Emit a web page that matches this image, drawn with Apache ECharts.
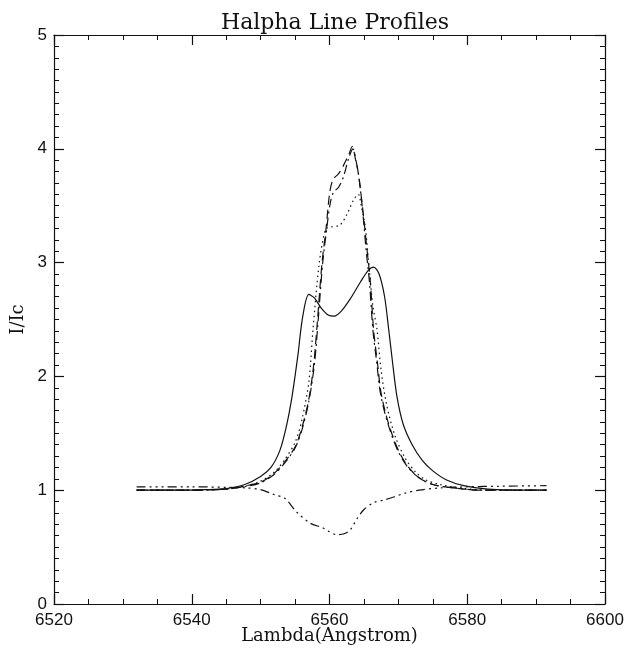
<!DOCTYPE html>
<html>
<head>
<meta charset="utf-8">
<script src="https://cdn.jsdelivr.net/npm/echarts@6/dist/echarts.min.js"></script>
<style>
  html, body { margin: 0; padding: 0; background: #fff; }
  #chart { width: 628px; height: 651px; }
</style>
</head>
<body>
<div id="chart"></div>
<script>
// wavelength (Angstrom) / normalised intensity pairs
var solidProfile = [
    [6532, 1.0], [6538, 1.0], [6542, 1.005], [6545, 1.015], [6547.7, 1.05],
    [6550, 1.12], [6551.5, 1.2], [6552.8, 1.35], [6553.7, 1.55], [6554.5, 1.8],
    [6555.4, 2.18], [6556.1, 2.52], [6557.0, 2.72], [6557.8, 2.69], [6558.8, 2.6],
    [6559.8, 2.54], [6560.7, 2.53], [6561.8, 2.58], [6563, 2.68], [6564.5, 2.83],
    [6565.6, 2.93], [6566.4, 2.96], [6567.2, 2.9], [6568, 2.7], [6568.6, 2.41],
    [6569.2, 2.1], [6569.8, 1.82], [6570.7, 1.58], [6572, 1.4], [6573.5, 1.26],
    [6575, 1.17], [6577, 1.09], [6579.5, 1.04], [6583, 1.01], [6587, 1.0], [6591.5, 1.0]
];
var dashedProfile = [
    [6532, 1.0], [6540, 1.0], [6545, 1.01], [6548, 1.04], [6550, 1.07],
    [6552, 1.15], [6553.5, 1.25], [6555, 1.38], [6556, 1.55], [6557, 1.8],
    [6557.7, 2.1], [6558.2, 2.45], [6558.9, 2.99], [6559.5, 3.3], [6560, 3.6],
    [6560.5, 3.73], [6561.3, 3.78], [6562, 3.85], [6562.8, 3.95], [6563.3, 4.02],
    [6563.8, 3.9], [6564.2, 3.78], [6564.9, 3.43], [6565.4, 3.14], [6565.9, 2.85],
    [6566.4, 2.41], [6567, 2.1], [6567.5, 1.85], [6568.5, 1.6], [6570, 1.35],
    [6571.5, 1.2], [6573, 1.11], [6575, 1.05], [6578, 1.02], [6582, 1.0], [6591.5, 1.0]
];
var dashDotProfile = [
    [6532, 1.0], [6540, 1.0], [6545, 1.01], [6548, 1.035], [6550, 1.065],
    [6552, 1.14], [6553.5, 1.24], [6555, 1.37], [6556, 1.53], [6557, 1.78],
    [6557.8, 2.1], [6558.3, 2.45], [6559, 2.99], [6559.6, 3.3], [6560.1, 3.52],
    [6560.6, 3.62], [6561.3, 3.66], [6562, 3.75], [6562.8, 3.92], [6563.4, 4.0],
    [6563.9, 3.88], [6564.3, 3.74], [6564.9, 3.4], [6565.3, 3.12], [6565.8, 2.83],
    [6566.3, 2.41], [6566.9, 2.1], [6567.4, 1.85], [6568.4, 1.6], [6569.9, 1.35],
    [6571.4, 1.2], [6573, 1.11], [6575, 1.05], [6578, 1.02], [6582, 1.0], [6591.5, 1.0]
];
var dottedProfile = [
    [6532, 1.0], [6540, 1.0], [6545, 1.01], [6548, 1.04], [6550, 1.08],
    [6552, 1.16], [6553.5, 1.27], [6555, 1.42], [6556, 1.62], [6557, 1.95],
    [6557.6, 2.41], [6558.5, 2.99], [6559.4, 3.29], [6560, 3.31], [6561.5, 3.33],
    [6562.5, 3.42], [6563.5, 3.55], [6564.2, 3.6], [6564.6, 3.5], [6565.2, 3.31],
    [6565.7, 2.99], [6566.3, 2.62], [6566.9, 2.41], [6567.5, 2.05], [6568.3, 1.75],
    [6569.5, 1.48], [6571, 1.28], [6572.5, 1.16], [6574, 1.09], [6576, 1.05],
    [6579, 1.02], [6583, 1.0], [6591.5, 1.0]
];
var absorptionProfile = [
    [6532, 1.03], [6540, 1.03], [6545, 1.025], [6548, 1.02], [6550, 1.005],
    [6552, 0.96], [6553.5, 0.93], [6555.2, 0.81], [6557.2, 0.71], [6559, 0.67],
    [6560, 0.635], [6561, 0.61], [6562, 0.615], [6563, 0.65], [6564, 0.75],
    [6565, 0.83], [6566.4, 0.89], [6568, 0.915], [6569.3, 0.94], [6571, 0.975],
    [6573, 1.0], [6576, 1.02], [6580, 1.03], [6585, 1.035], [6591.5, 1.04]
];

var xMin = 6520, xMax = 6600, xStep = 20;
var yMin = 0, yMax = 5, yStep = 1;

var ink = '#111';
var tickFont = { color: ink, fontFamily: 'Liberation Sans', fontSize: 17 };

function frameAxis(pos, min, max, step, minorSplit, labels, labelMargin) {
    return {
        type: 'value',
        position: pos,
        min: min,
        max: max,
        interval: step,
        axisLine: { show: true, onZero: false, lineStyle: { color: ink, width: 1.2 } },
        axisTick: { show: true, inside: true, length: 10, lineStyle: { color: ink, width: 1.2 } },
        minorTick: { show: true, splitNumber: minorSplit, length: 5, lineStyle: { color: ink, width: 1 } },
        splitLine: { show: false },
        axisLabel: labels ? Object.assign({
            show: true,
            margin: labelMargin,
            formatter: function (v) { return String(v); } // no thousands separator
        }, tickFont) : { show: false }
    };
}

function profile(data, dash) {
    return {
        type: 'line',
        data: data,
        xAxisIndex: 0,
        yAxisIndex: 0,
        smooth: 0.3,
        showSymbol: false,
        symbol: 'none',
        lineStyle: { color: ink, width: 1.2, type: dash },
        silent: true
    };
}

var chart = echarts.init(document.getElementById('chart'));

var xBottom = frameAxis('bottom', xMin, xMax, xStep, 4, true, 8);
xBottom.name = 'Lambda(Angstrom)';
xBottom.nameLocation = 'middle';
xBottom.nameGap = 23;
xBottom.nameMoveOverlap = false;
xBottom.nameTextStyle = { color: ink, fontFamily: 'DejaVu Serif', fontSize: 18 };

var yLeft = frameAxis('left', yMin, yMax, yStep, 10, true, 7);
yLeft.name = 'I/Ic';
yLeft.nameLocation = 'middle';
yLeft.nameGap = 27;
yLeft.nameMoveOverlap = false;
yLeft.nameTextStyle = { color: ink, fontFamily: 'DejaVu Serif', fontSize: 18 };

chart.setOption({
    backgroundColor: '#fff',
    animation: false,
    title: {
        text: 'Halpha Line Profiles',
        left: 330,
        textAlign: 'center',
        top: 7,
        textStyle: { color: ink, fontFamily: 'DejaVu Serif', fontSize: 22, fontWeight: 'normal' }
    },
    grid: { left: 54, right: 23, top: 35, bottom: 47, containLabel: false, outerBoundsMode: 'none' },
    xAxis: [xBottom, frameAxis('top', xMin, xMax, xStep, 4, false)],
    yAxis: [yLeft, frameAxis('right', yMin, yMax, yStep, 10, false)],
    series: [
        profile(solidProfile, 'solid'),
        profile(dashedProfile, [9, 5]),
        profile(dashDotProfile, [9, 4, 2, 4]),
        profile(dottedProfile, [1.5, 3.5]),
        profile(absorptionProfile, [9, 4, 2, 4, 2, 4, 2, 4])
    ]
});
</script>
</body>
</html>
